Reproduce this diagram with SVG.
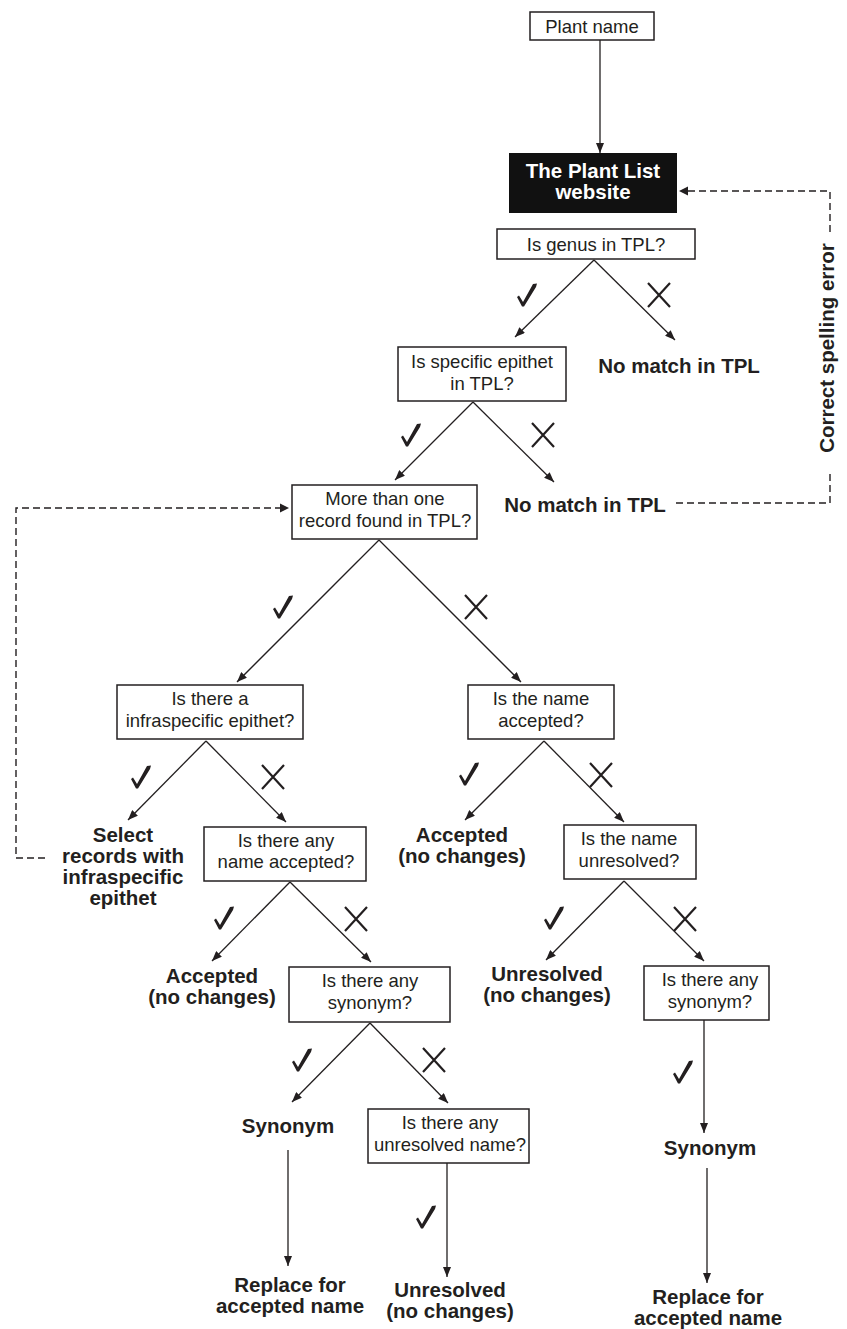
<svg xmlns="http://www.w3.org/2000/svg" width="847" height="1329" viewBox="0 0 847 1329">
<style>
.box{fill:#fff;stroke:#231f20;stroke-width:1.5}
.q{font-family:"Liberation Sans",Arial,sans-serif;font-size:18.5px;fill:#231f20;text-anchor:middle}
.b{font-family:"Liberation Sans",Arial,sans-serif;font-size:20.5px;font-weight:bold;fill:#231f20;text-anchor:middle}
.w{font-family:"Liberation Sans",Arial,sans-serif;font-size:20.5px;font-weight:bold;fill:#fff;text-anchor:middle}
.ln{fill:none;stroke:#231f20;stroke-width:1.3;marker-end:url(#ah)}
.dl{fill:none;stroke:#231f20;stroke-width:1.4;stroke-dasharray:7 4}
.xm{stroke:#231f20;stroke-width:2.2;fill:none}
.ck{fill:#231f20}
</style>
<defs>
<marker id="ah" markerUnits="userSpaceOnUse" markerWidth="10" markerHeight="8" refX="10" refY="4" orient="auto">
<path d="M0,0 L10,4 L0,8 Z" fill="#231f20"/>
</marker>
<path id="check" d="M-10,2 L-5,11.5 L-3,11.5 L9,-8 L10,-11.5 L6,-11 L-4,7 L-8,0.5 Z"/>
<path id="cross" d="M-11,-12 L11,12 M-11,12 L11,-12"/>
</defs>

<g id="connectors">
<path class="ln" d="M600,40 V153"/>
<path class="ln" d="M594,260 L515,337"/>
<path class="ln" d="M594,260 L675,340"/>
<path class="ln" d="M473,402 L395,480"/>
<path class="ln" d="M473,402 L554,482"/>
<path class="ln" d="M379,540 L237,682"/>
<path class="ln" d="M379,540 L521,682"/>
<path class="ln" d="M206,741 L128,820"/>
<path class="ln" d="M206,741 L286,822"/>
<path class="ln" d="M544,741 L465,820"/>
<path class="ln" d="M544,741 L624,822"/>
<path class="ln" d="M290,882 L212,961"/>
<path class="ln" d="M290,882 L371,962"/>
<path class="ln" d="M624,881 L546,960"/>
<path class="ln" d="M624,881 L704,961"/>
<path class="ln" d="M370,1023 L292,1102"/>
<path class="ln" d="M370,1023 L448,1103"/>
<path class="ln" d="M288,1150 V1266"/>
<path class="ln" d="M447,1163 V1277"/>
<path class="ln" d="M704,1020 V1133"/>
<path class="ln" d="M707,1168 V1283"/>
<path class="dl" d="M676,503 H830 V470"/>
<path class="dl" d="M830,232 V191 H686"/>
<path d="M679,191 L688,186.5 L688,195.5 Z" fill="#231f20"/>
<path class="dl" d="M45,858 H16 V508 H281"/>
<path d="M289,508 L280,503.5 L280,512.5 Z" fill="#231f20"/>
<g class="ck">
<use href="#check" x="527" y="295"/>
<use href="#check" x="411" y="435"/>
<use href="#check" x="283" y="607"/>
<use href="#check" x="141" y="777"/>
<use href="#check" x="469" y="774"/>
<use href="#check" x="224" y="918"/>
<use href="#check" x="554" y="918"/>
<use href="#check" x="302" y="1060"/>
<use href="#check" x="426" y="1217"/>
<use href="#check" x="683" y="1072"/>
</g>
<g class="xm">
<use href="#cross" x="659" y="295"/>
<use href="#cross" x="543" y="435"/>
<use href="#cross" x="476" y="607"/>
<use href="#cross" x="273" y="777"/>
<use href="#cross" x="601" y="775"/>
<use href="#cross" x="356" y="919"/>
<use href="#cross" x="685" y="919"/>
<use href="#cross" x="434" y="1060"/>
</g>
<text class="b" transform="translate(834,348) rotate(-90)">Correct spelling error</text>
</g>

<g id="plant-name">
<rect class="box" x="530" y="12" width="124" height="28"/>
<text class="q" x="592" y="33">Plant name</text>
</g>
<g id="tpl-website">
<rect x="509" y="153" width="168" height="60" fill="#111"/>
<text class="w" x="593" y="178">The Plant List</text>
<text class="w" x="593" y="199">website</text>
</g>
<g id="genus">
<rect class="box" x="497" y="229" width="198" height="30"/>
<text class="q" x="596" y="251">Is genus in TPL?</text>
</g>
<g id="no-match-1">
<text class="b" x="679" y="373">No match in TPL</text>
</g>
<g id="specific">
<rect class="box" x="398" y="347" width="168" height="54"/>
<text class="q" x="482" y="368">Is specific epithet</text>
<text class="q" x="482" y="390">in TPL?</text>
</g>
<g id="no-match-2">
<text class="b" x="585" y="512">No match in TPL</text>
</g>
<g id="more-records">
<rect class="box" x="292" y="485" width="185" height="54"/>
<text class="q" x="385" y="505">More than one</text>
<text class="q" x="385" y="527">record found in TPL?</text>
</g>
<g id="infraspecific">
<rect class="box" x="117" y="685" width="186" height="54"/>
<text class="q" x="210" y="705">Is there a</text>
<text class="q" x="210" y="727">infraspecific epithet?</text>
</g>
<g id="name-accepted">
<rect class="box" x="468" y="685" width="146" height="54"/>
<text class="q" x="541" y="705">Is the name</text>
<text class="q" x="541" y="727">accepted?</text>
</g>
<g id="select-records">
<text class="b" x="123" y="842">Select</text>
<text class="b" x="123" y="863">records with</text>
<text class="b" x="123" y="884">infraspecific</text>
<text class="b" x="123" y="905">epithet</text>
</g>
<g id="any-name-accepted">
<rect class="box" x="204" y="827" width="162" height="54"/>
<text class="q" x="286" y="847">Is there any</text>
<text class="q" x="286" y="868">name accepted?</text>
</g>
<g id="accepted-1">
<text class="b" x="462" y="842">Accepted</text>
<text class="b" x="462" y="863">(no changes)</text>
</g>
<g id="unresolved-q">
<rect class="box" x="564" y="825" width="132" height="54"/>
<text class="q" x="629" y="845">Is the name</text>
<text class="q" x="629" y="867">unresolved?</text>
</g>
<g id="accepted-2">
<text class="b" x="212" y="983">Accepted</text>
<text class="b" x="212" y="1004">(no changes)</text>
</g>
<g id="synonym-q-1">
<rect class="box" x="289" y="967" width="161" height="55"/>
<text class="q" x="370" y="987">Is there any</text>
<text class="q" x="370" y="1009">synonym?</text>
</g>
<g id="unresolved-1">
<text class="b" x="547" y="981">Unresolved</text>
<text class="b" x="547" y="1002">(no changes)</text>
</g>
<g id="synonym-q-2">
<rect class="box" x="644" y="966" width="125" height="54"/>
<text class="q" x="710" y="986">Is there any</text>
<text class="q" x="710" y="1008">synonym?</text>
</g>
<g id="synonym-1">
<text class="b" x="288" y="1133">Synonym</text>
</g>
<g id="unresolved-name-q">
<rect class="box" x="368" y="1109" width="161" height="54"/>
<text class="q" x="450" y="1129">Is there any</text>
<text class="q" x="450" y="1151">unresolved name?</text>
</g>
<g id="synonym-2">
<text class="b" x="710" y="1155">Synonym</text>
</g>
<g id="replace-1">
<text class="b" x="290" y="1292">Replace for</text>
<text class="b" x="290" y="1313">accepted name</text>
</g>
<g id="unresolved-2">
<text class="b" x="450" y="1297">Unresolved</text>
<text class="b" x="450" y="1318">(no changes)</text>
</g>
<g id="replace-2">
<text class="b" x="708" y="1304">Replace for</text>
<text class="b" x="708" y="1325">accepted name</text>
</g>
</svg>
